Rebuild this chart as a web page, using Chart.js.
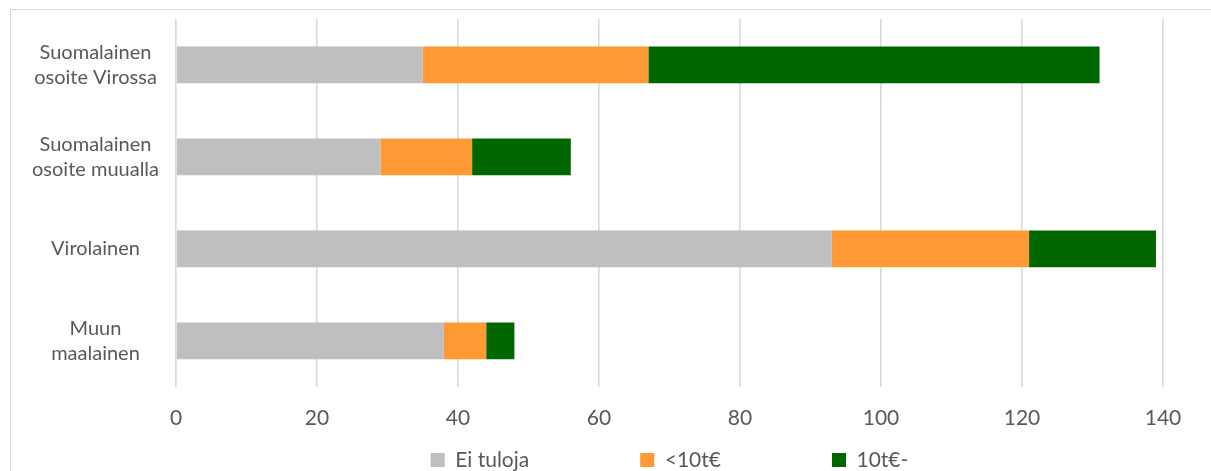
<!DOCTYPE html>
<html>
<head>
<meta charset="utf-8">
<script src="https://cdn.jsdelivr.net/npm/chart.js@4"></script>
<style>
  html, body { margin: 0; padding: 0; background: #fff; }
  #frame { position: absolute; left: 10px; top: 9px; width: 1210px; height: 470px; border: 1px solid #d9d9d9; box-sizing: border-box; }
  #wrap { position: absolute; left: 0; top: 0; width: 1211px; height: 471px; }
</style>
</head>
<body>
<div id="frame"></div>
<div id="wrap"><canvas id="c" width="1211" height="471"></canvas></div>
<script>
const categories = [
  ["Suomalainen", "osoite Virossa"],
  ["Suomalainen", "osoite muualla"],
  "Virolainen",
  ["Muun", "maalainen"]
];
const seriesNames = ["Ei tuloja", "<10t€", "10t€-"];
const eiTuloja = [35, 29, 93, 38];
const alle10 = [32, 13, 28, 6];
const yli10 = [64, 14, 18, 4];
const xTicks = [0, 20, 40, 60, 80, 100, 120, 140];
const colors = ["#bfbfbf", "#ff9933", "#006600"];

const textColor = "#595959";
const fontFamily = "Lato, 'Open Sans', sans-serif";
const legendGap = 111;

new Chart(document.getElementById("c"), {
  type: "bar",
  data: {
    labels: categories,
    datasets: [eiTuloja, alle10, yli10].map((d, i) => ({
      label: seriesNames[i],
      data: d,
      backgroundColor: colors[i],
      borderWidth: 0,
      barPercentage: 0.4,
      categoryPercentage: 1.0
    }))
  },
  options: {
    indexAxis: "y",
    responsive: false,
    animation: false,
    layout: { padding: { top: 19, right: 48, left: 15, bottom: 0 } },
    scales: {
      x: {
        stacked: true,
        min: xTicks[0],
        max: xTicks[xTicks.length - 1],
        afterBuildTicks: (axis) => { axis.ticks = xTicks.map(v => ({ value: v })); },
        grid: { color: "#d9d9d9", lineWidth: 1.6, drawTicks: false },
        border: { display: false },
        ticks: { color: textColor, font: { family: fontFamily, size: 21, lineHeight: 1.2 }, padding: 19 }
      },
      y: {
        stacked: true,
        afterFit: (axis) => { axis.paddingTop = 0; axis.paddingBottom = 0; },
        grid: { display: false, drawTicks: false },
        border: { display: false },
        ticks: { color: textColor, font: { family: fontFamily, size: 20, lineHeight: 1.25 }, padding: 17, crossAlign: "center" }
      }
    },
    plugins: {
      legend: {
        position: "bottom",
        fullSize: false,
        maxHeight: 21,
        title: { display: true, text: "", font: { size: 12, lineHeight: 1.2 }, padding: { top: -(legendGap + 0.5) - 14.4, bottom: 0 } },
        labels: {
          color: textColor,
          font: { family: fontFamily, size: 21 },
          boxWidth: 14,
          boxHeight: 14,
          padding: legendGap
        }
      },
      tooltip: { enabled: false }
    }
  }
});
</script>
</body>
</html>
